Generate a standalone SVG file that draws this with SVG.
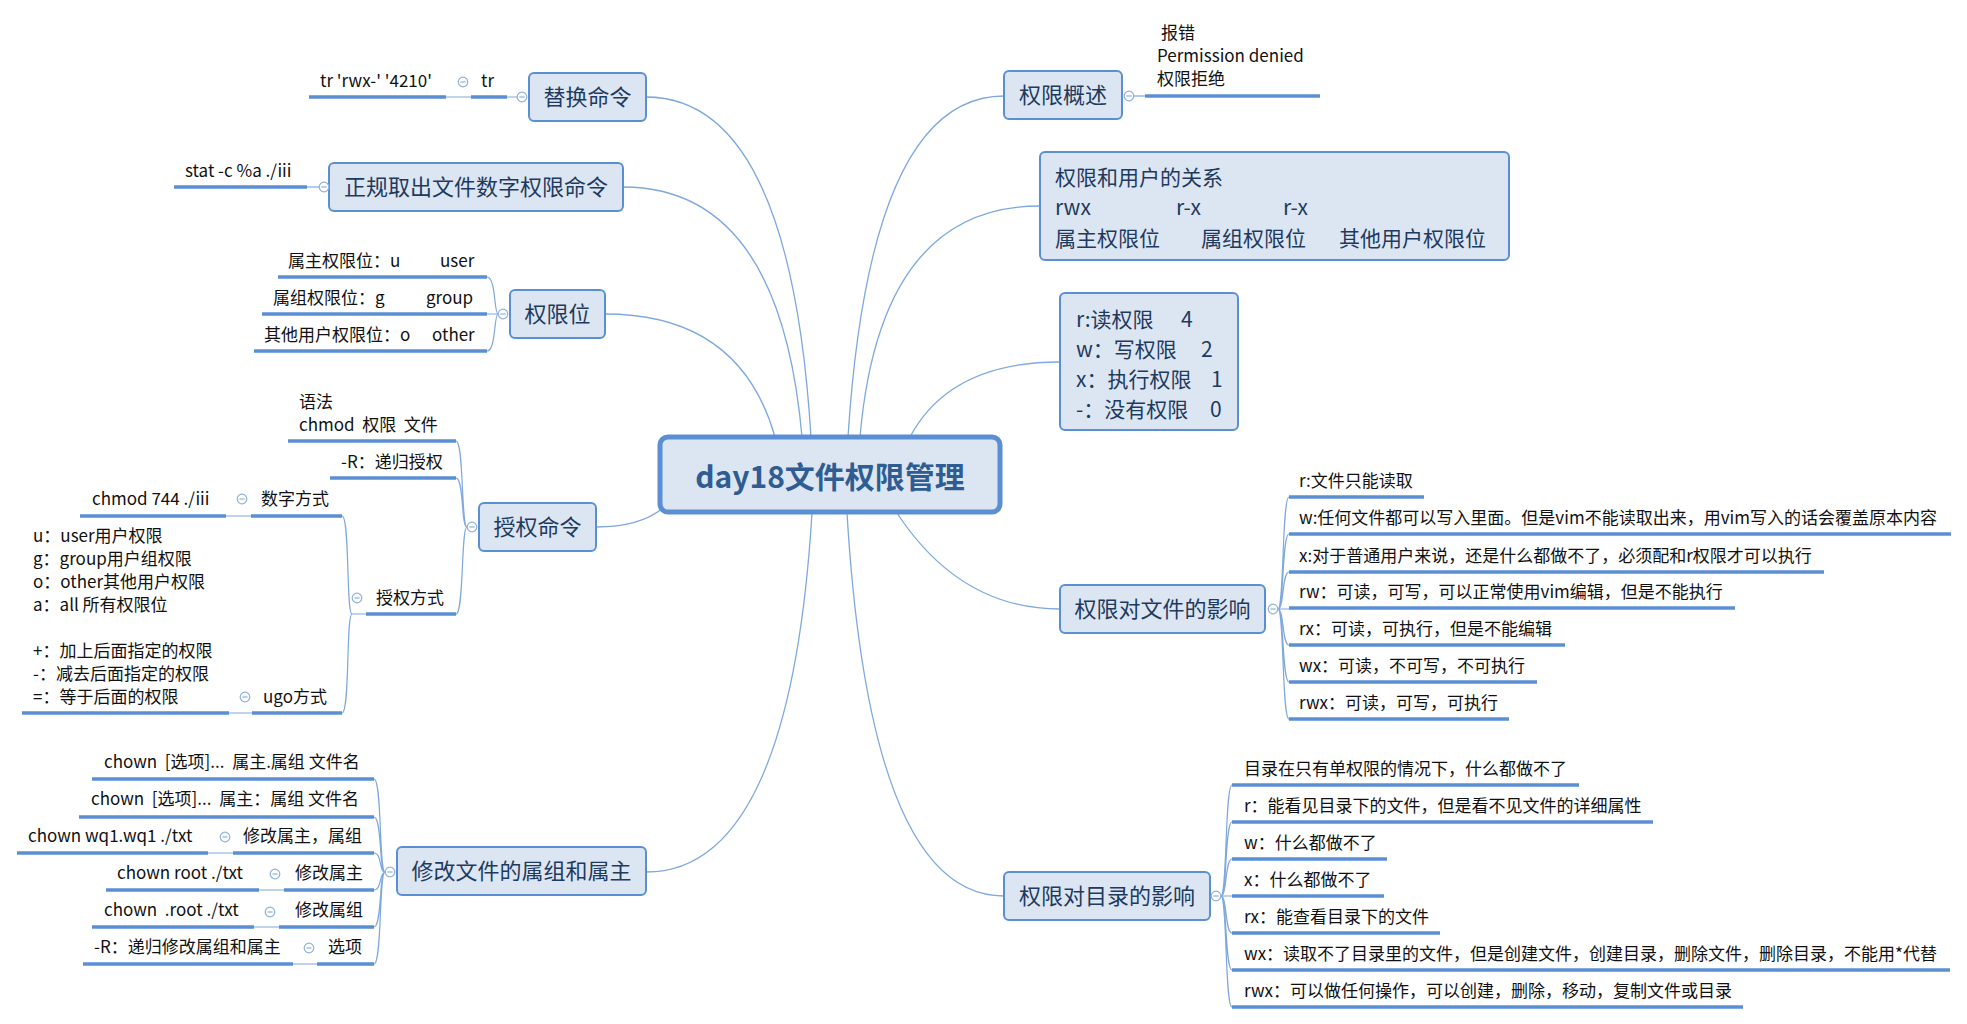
<svg xmlns="http://www.w3.org/2000/svg" width="1967" height="1024" viewBox="0 0 1967 1024">
<style>
text{font-family:"Noto Sans CJK SC","Noto Sans",sans-serif;white-space:pre}
.bx{fill:#dce6f2;stroke:#5b8fd4;stroke-width:2}
.tt{font-size:22px;fill:#1e3a5f;text-anchor:middle}
.bt{font-size:21px;fill:#1e3a5f}
.st{font-size:17px;fill:#111}
.ul{stroke:#5b8fd4;stroke-width:3.5;fill:none}
.cn{stroke:#7ea8de;stroke-width:1.3;fill:none}
.tl{stroke:#7ea8de;stroke-width:1.2;fill:none}
.bn{fill:#fff;stroke:#8eb0de;stroke-width:1.2}
.bm{stroke:#8eb0de;stroke-width:1.2}
</style>
<defs>
<g id="btn"><circle class="bn" cx="0" cy="0" r="4.8"/><line class="bm" x1="-2.6" y1="0" x2="2.6" y2="0"/></g>
</defs>
<rect width="1967" height="1024" fill="#fff"/>

<g id="connectors">
<path class="cn" d="M646,97 Q790,97 811,437"/>
<path class="cn" d="M623,187 Q780,187 802,437"/>
<path class="cn" d="M605,314 Q740,314 775,437"/>
<path class="cn" d="M596,527 Q640,527 663,508"/>
<path class="cn" d="M646,872 Q790,872 812,513"/>
<path class="cn" d="M1004,96 Q870,96 848,437"/>
<path class="cn" d="M1040,206 Q880,206 860,437"/>
<path class="cn" d="M1060,362 Q950,362 910,437"/>
<path class="cn" d="M1060,609 Q960,609 897,513"/>
<path class="cn" d="M1004,896 Q870,896 847,513"/>
<path class="tl" d="M507,97 H517 M446,97 H471"/>
<path class="tl" d="M307,187 H319"/>
<path class="tl" d="M498,314 C494,314 496,277 487,277 M498,314 H487 M498,314 C494,314 496,351 487,351"/>
<path class="tl" d="M467,527 C461,527 464,441 456,441 M467,527 C461,527 464,478 456,478 M467,527 C461,527 464,614 456,614"/>
<path class="tl" d="M366,614 H352 C346,614 350,516 342,516 M352,614 C346,614 350,713 342,713"/>
<path class="tl" d="M226,516 H251 M229,713 H252"/>
<path class="tl" d="M385,872 C379,872 382,779 374,779 M385,872 C379,872 382,817 374,817 M385,872 C379,872 382,853 374,853 M385,872 C379,872 382,890 374,890 M385,872 C379,872 382,927 374,927 M385,872 C379,872 382,964 374,964"/>
<path class="tl" d="M208,853 H233 M259,890 H284 M254,927 H279 M293,964 H317"/>
<path class="tl" d="M1134,96 H1145"/>
<path class="tl" d="M1278,609 C1284,609 1282,497 1289,497 M1278,609 C1284,609 1282,534 1289,534 M1278,609 C1284,609 1282,572 1289,572 M1278,609 H1289 M1278,609 C1284,609 1282,645 1289,645 M1278,609 C1284,609 1282,682 1289,682 M1278,609 C1284,609 1282,719 1289,719"/>
<path class="tl" d="M1221,896 C1227,896 1225,785 1232,785 M1221,896 C1227,896 1225,822 1232,822 M1221,896 C1227,896 1225,859 1232,859 M1221,896 H1232 M1221,896 C1227,896 1225,933 1232,933 M1221,896 C1227,896 1225,970 1232,970 M1221,896 C1227,896 1225,1007 1232,1007"/>
</g>

<g id="central">
<rect x="660" y="437" width="340" height="75" rx="8" fill="#dce6f2" stroke="#5a8fd4" stroke-width="5"/>
<text x="830" y="488" font-size="30" font-weight="bold" fill="#2f5c93" text-anchor="middle">day18文件权限管理</text>
</g>

<g id="n-replace">
<rect class="bx" x="529" y="73" width="117" height="48" rx="5"/>
<text class="tt" x="587.5" y="105">替换命令</text>
<use href="#btn" x="522" y="97"/>
<line class="ul" x1="471" y1="97" x2="507" y2="97"/>
<text class="st" x="481" y="87">tr</text>
<use href="#btn" x="463" y="82"/>
<line class="ul" x1="309" y1="97" x2="446" y2="97"/>
<text class="st" x="320" y="87">tr 'rwx-' '4210'</text>
</g>

<g id="n-stat">
<rect class="bx" x="329" y="163" width="294" height="48" rx="5"/>
<text class="tt" x="476" y="195">正规取出文件数字权限命令</text>
<use href="#btn" x="324" y="187"/>
<line class="ul" x1="174" y1="187" x2="307" y2="187"/>
<text class="st" x="185" y="177">stat -c %a ./iii</text>
</g>

<g id="n-bits">
<rect class="bx" x="510" y="290" width="95" height="48" rx="5"/>
<text class="tt" x="557.5" y="322">权限位</text>
<use href="#btn" x="503" y="314"/>
<line class="ul" x1="278" y1="277" x2="487" y2="277"/>
<text class="st" x="288" y="267">属主权限位：u<tspan x="440">user</tspan></text>
<line class="ul" x1="262" y1="314" x2="487" y2="314"/>
<text class="st" x="273" y="304">属组权限位：g<tspan x="426">group</tspan></text>
<line class="ul" x1="254" y1="351" x2="487" y2="351"/>
<text class="st" x="264" y="341">其他用户权限位：o<tspan x="432">other</tspan></text>
</g>

<g id="n-chmod">
<rect class="bx" x="479" y="503" width="117" height="48" rx="5"/>
<text class="tt" x="537.5" y="535">授权命令</text>
<use href="#btn" x="472" y="527"/>
<line class="ul" x1="288" y1="441" x2="456" y2="441"/>
<text class="st" x="299" y="408">语法</text>
<text class="st" x="299" y="431">chmod  权限  文件</text>
<line class="ul" x1="330" y1="478" x2="456" y2="478"/>
<text class="st" x="341" y="468">-R：递归授权</text>
<line class="ul" x1="366" y1="614" x2="456" y2="614"/>
<text class="st" x="376" y="604">授权方式</text>
<use href="#btn" x="357" y="598"/>
<line class="ul" x1="251" y1="516" x2="342" y2="516"/>
<text class="st" x="261" y="505">数字方式</text>
<use href="#btn" x="242" y="499"/>
<line class="ul" x1="80" y1="516" x2="226" y2="516"/>
<text class="st" x="92" y="505">chmod 744 ./iii</text>
<line class="ul" x1="252" y1="713" x2="342" y2="713"/>
<text class="st" x="263" y="703">ugo方式</text>
<use href="#btn" x="245" y="697"/>
<line class="ul" x1="22" y1="713" x2="229" y2="713"/>
<text class="st" x="33" y="542">u：user用户权限</text>
<text class="st" x="33" y="565">g：group用户组权限</text>
<text class="st" x="33" y="588">o：other其他用户权限</text>
<text class="st" x="33" y="611">a：all 所有权限位</text>
<text class="st" x="33" y="657">+：加上后面指定的权限</text>
<text class="st" x="33" y="680">-：减去后面指定的权限</text>
<text class="st" x="33" y="703">=：等于后面的权限</text>
</g>

<g id="n-chown">
<rect class="bx" x="397" y="847" width="249" height="48" rx="5"/>
<text class="tt" x="521.5" y="879">修改文件的属组和属主</text>
<use href="#btn" x="390" y="872"/>
<line class="ul" x1="92" y1="779" x2="374" y2="779"/>
<text class="st" x="104" y="768">chown  [选项]...  属主.属组 文件名</text>
<line class="ul" x1="79" y1="817" x2="374" y2="817"/>
<text class="st" x="91" y="805">chown  [选项]...  属主：属组 文件名</text>
<line class="ul" x1="233" y1="853" x2="374" y2="853"/>
<text class="st" x="243" y="842">修改属主，属组</text>
<use href="#btn" x="225" y="837"/>
<line class="ul" x1="17" y1="853" x2="208" y2="853"/>
<text class="st" x="28" y="842">chown wq1.wq1 ./txt</text>
<line class="ul" x1="284" y1="890" x2="374" y2="890"/>
<text class="st" x="295" y="879">修改属主</text>
<use href="#btn" x="275" y="874"/>
<line class="ul" x1="106" y1="890" x2="259" y2="890"/>
<text class="st" x="117" y="879">chown root ./txt</text>
<line class="ul" x1="279" y1="927" x2="374" y2="927"/>
<text class="st" x="295" y="916">修改属组</text>
<use href="#btn" x="270" y="912"/>
<line class="ul" x1="92" y1="927" x2="254" y2="927"/>
<text class="st" x="104" y="916">chown  .root ./txt</text>
<line class="ul" x1="317" y1="964" x2="374" y2="964"/>
<text class="st" x="328" y="953">选项</text>
<use href="#btn" x="309" y="948"/>
<line class="ul" x1="83" y1="964" x2="293" y2="964"/>
<text class="st" x="94" y="953">-R：递归修改属组和属主</text>
</g>

<g id="n-overview">
<rect class="bx" x="1004" y="71" width="118" height="48" rx="5"/>
<text class="tt" x="1063" y="103">权限概述</text>
<use href="#btn" x="1129" y="96"/>
<line class="ul" x1="1145" y1="96" x2="1320" y2="96"/>
<text class="st" x="1161" y="39">报错</text>
<text class="st" x="1157" y="62">Permission denied</text>
<text class="st" x="1157" y="85">权限拒绝</text>
</g>

<g id="n-relation">
<rect class="bx" x="1040" y="152" width="469" height="108" rx="5"/>
<text class="bt" x="1055" y="185">权限和用户的关系</text>
<text class="bt" x="1055" y="215">rwx<tspan x="1176">r-x</tspan><tspan x="1283">r-x</tspan></text>
<text class="bt" x="1055" y="246">属主权限位<tspan x="1201">属组权限位</tspan><tspan x="1339">其他用户权限位</tspan></text>
</g>

<g id="n-values">
<rect class="bx" x="1060" y="293" width="178" height="137" rx="5"/>
<text class="bt" x="1076" y="327">r:读权限<tspan x="1181">4</tspan></text>
<text class="bt" x="1076" y="357">w：写权限<tspan x="1201">2</tspan></text>
<text class="bt" x="1076" y="387">x：执行权限<tspan x="1211">1</tspan></text>
<text class="bt" x="1076" y="417">-：没有权限<tspan x="1210">0</tspan></text>
</g>

<g id="n-file">
<rect class="bx" x="1060" y="585" width="205" height="48" rx="5"/>
<text class="tt" x="1162.5" y="617">权限对文件的影响</text>
<use href="#btn" x="1273" y="609"/>
<line class="ul" x1="1289" y1="497" x2="1424" y2="497"/>
<text class="st" x="1299" y="487">r:文件只能读取</text>
<line class="ul" x1="1289" y1="534" x2="1951" y2="534"/>
<text class="st" x="1299" y="524">w:任何文件都可以写入里面。但是vim不能读取出来，用vim写入的话会覆盖原本内容</text>
<line class="ul" x1="1289" y1="572" x2="1824" y2="572"/>
<text class="st" x="1299" y="562">x:对于普通用户来说，还是什么都做不了，必须配和r权限才可以执行</text>
<line class="ul" x1="1289" y1="608" x2="1735" y2="608"/>
<text class="st" x="1299" y="598">rw：可读，可写，可以正常使用vim编辑，但是不能执行</text>
<line class="ul" x1="1289" y1="645" x2="1565" y2="645"/>
<text class="st" x="1299" y="635">rx：可读，可执行，但是不能编辑</text>
<line class="ul" x1="1289" y1="682" x2="1537" y2="682"/>
<text class="st" x="1299" y="672">wx：可读，不可写，不可执行</text>
<line class="ul" x1="1289" y1="719" x2="1509" y2="719"/>
<text class="st" x="1299" y="709">rwx：可读，可写，可执行</text>
</g>

<g id="n-dir">
<rect class="bx" x="1004" y="872" width="206" height="48" rx="5"/>
<text class="tt" x="1107" y="904">权限对目录的影响</text>
<use href="#btn" x="1216" y="896"/>
<line class="ul" x1="1232" y1="785" x2="1579" y2="785"/>
<text class="st" x="1244" y="775">目录在只有单权限的情况下，什么都做不了</text>
<line class="ul" x1="1232" y1="822" x2="1653" y2="822"/>
<text class="st" x="1244" y="812">r：能看见目录下的文件，但是看不见文件的详细属性</text>
<line class="ul" x1="1232" y1="859" x2="1387" y2="859"/>
<text class="st" x="1244" y="849">w：什么都做不了</text>
<line class="ul" x1="1232" y1="896" x2="1384" y2="896"/>
<text class="st" x="1244" y="886">x：什么都做不了</text>
<line class="ul" x1="1232" y1="933" x2="1440" y2="933"/>
<text class="st" x="1244" y="923">rx：能查看目录下的文件</text>
<line class="ul" x1="1232" y1="970" x2="1950" y2="970"/>
<text class="st" x="1244" y="960">wx：读取不了目录里的文件，但是创建文件，创建目录，删除文件，删除目录，不能用*代替</text>
<line class="ul" x1="1232" y1="1007" x2="1743" y2="1007"/>
<text class="st" x="1244" y="997">rwx：可以做任何操作，可以创建，删除，移动，复制文件或目录</text>
</g>
</svg>
